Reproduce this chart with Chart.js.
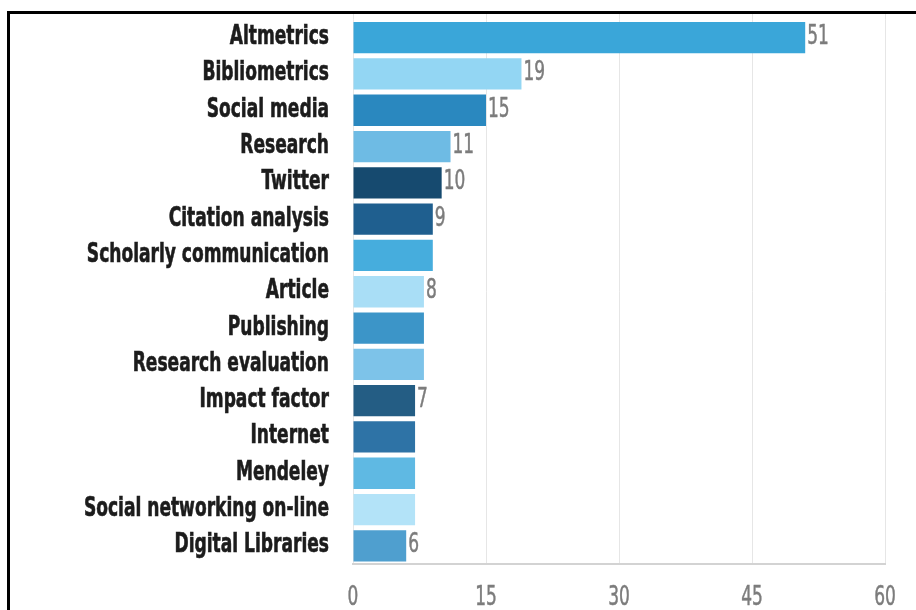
<!DOCTYPE html>
<html>
<head>
<meta charset="utf-8">
<script src="https://cdn.jsdelivr.net/npm/chart.js@4.4.1/dist/chart.umd.min.js"></script>
<style>
  html, body { margin:0; padding:0; background:#fff; overflow:hidden; }
  #wrap { position:relative; width:916px; height:610px; }
  #frame { position:absolute; left:7px; top:11px; width:1000px; height:1000px;
           border-left:3px solid #000; border-top:3px solid #000; box-sizing:border-box; pointer-events:none; }
  canvas { position:absolute; left:0; top:0; }
</style>
</head>
<body>
<div id="wrap">
  <canvas id="c" width="916" height="610"></canvas>
  <div id="frame"></div>
</div>
<script>
const categories = ["Altmetrics","Bibliometrics","Social media","Research","Twitter","Citation analysis",
  "Scholarly communication","Article","Publishing","Research evaluation","Impact factor","Internet",
  "Mendeley","Social networking on-line","Digital Libraries"];
const values = [51,19,15,11,10,9,9,8,8,8,7,7,7,7,6];
const valueLabels = ["51","19","15","11","10","9","","8","","","7","","","","6"];
const barColors = ["#3aa6d9","#93d6f3","#2a88bf","#6ebbe4","#164a6f","#1f5f8f","#46addd","#a9def6",
  "#3c95c8","#7dc3e9","#245d84","#2e73a6","#5fb9e3","#b3e3f8","#4f9fcf"];
const xTicks = [0,15,30,45,60];

const FONT = "'DejaVu Sans Condensed','DejaVu Sans',sans-serif";

function drawScaledText(ctx, text, x, y, align, sx, stroke) {
  ctx.save();
  ctx.translate(x, y);
  ctx.scale(sx, 1);
  ctx.textAlign = align;
  ctx.fillText(text, 0, 0);
  if (stroke) { ctx.lineWidth = stroke; ctx.strokeText(text, 0, 0); }
  ctx.restore();
}

const textPlugin = {
  id: 'condensedText',
  beforeDatasetsDraw(chart) {
    const ctx = chart.ctx, xs = chart.scales.x, top = chart.chartArea.top;
    ctx.save();
    ctx.strokeStyle = "#e6e6e6";
    ctx.lineWidth = 1;
    xTicks.forEach(v => {
      const x = Math.round(xs.getPixelForValue(v)) + 0.5;
      ctx.beginPath(); ctx.moveTo(x, 14); ctx.lineTo(x, top); ctx.stroke();
    });
    ctx.restore();
  },
  afterDatasetsDraw(chart) {
    const ctx = chart.ctx;
    const meta = chart.getDatasetMeta(0);
    const ys = chart.scales.y, xs = chart.scales.x, area = chart.chartArea;
    ctx.save();
    ctx.textBaseline = "alphabetic";
    ctx.font = "bold 26px " + FONT;
    ctx.fillStyle = "#1c1c1c";
    ctx.strokeStyle = "#1c1c1c";
    categories.forEach((c, i) => {
      drawScaledText(ctx, c, area.left - 24, ys.getPixelForValue(i) + 6.5, "right", 0.73, 0.6);
    });
    ctx.font = "27px " + FONT;
    ctx.fillStyle = "#7c7c7c";
    ctx.strokeStyle = "#7c7c7c";
    meta.data.forEach((bar, i) => {
      if (valueLabels[i]) drawScaledText(ctx, valueLabels[i], bar.x + 2, bar.y + 6.5, "left", 0.7, 0.5);
    });
    xTicks.forEach(v => {
      drawScaledText(ctx, String(v), xs.getPixelForValue(v), 605, "center", 0.7, 0.5);
    });
    ctx.restore();
  }
};

new Chart(document.getElementById('c'), {
  type: 'bar',
  data: {
    labels: categories,
    datasets: [{
      data: values,
      backgroundColor: barColors,
      borderWidth: 0,
      barPercentage: 0.862,
      categoryPercentage: 1.0
    }]
  },
  plugins: [textPlugin],
  options: {
    indexAxis: 'y',
    responsive: false,
    animation: false,
    devicePixelRatio: 1,
    layout: { padding: { left: 8, right: 31, top: 19.5, bottom: 0 } },
    plugins: { legend: { display: false }, tooltip: { enabled: false } },
    scales: {
      x: {
        min: 0, max: 60,
        afterBuildTicks: (s) => { s.ticks = xTicks.map(v => ({ value: v })); },
        afterFit: (s) => { s.height = 46; },
        grid: { color: "#e6e6e6", lineWidth: 1, drawTicks: false },
        border: { display: true, color: "#d3d3d3", width: 2 },
        ticks: { display: false }
      },
      y: {
        afterFit: (s) => { s.width = 345; },
        grid: { display: false, drawTicks: false },
        border: { display: false },
        ticks: { display: false }
      }
    }
  }
});
</script>
</body>
</html>
